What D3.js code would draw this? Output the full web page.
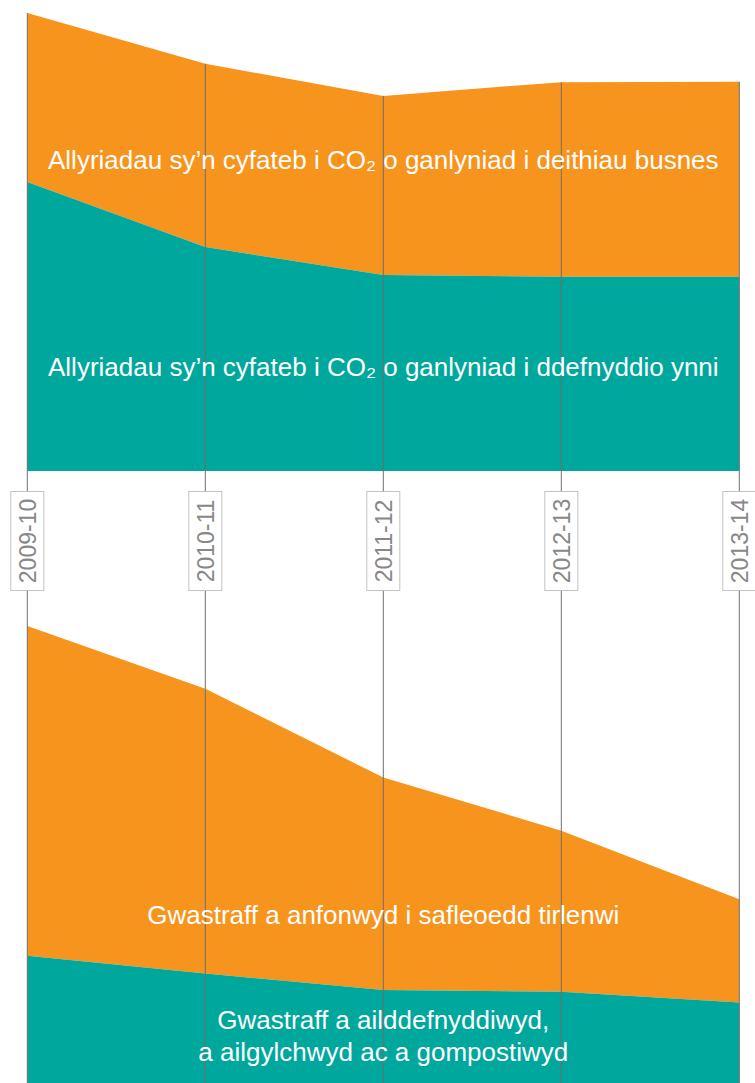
<!DOCTYPE html>
<html><head><meta charset="utf-8">
<script src="https://cdn.jsdelivr.net/npm/d3@7"></script>
<style>html,body{margin:0;padding:0;background:#fff;}svg{display:block;}</style>
</head><body><div id="chart"></div>
<script>
const years = ["2009-10","2010-11","2011-12","2012-13","2013-14"];
// Top chart (CO2 equivalent emissions, index units)
const energy = [631, 489, 428, 424, 424];
const travel = [369, 400, 391, 425, 426];
// Bottom chart (waste, index units)
const reused = [278, 239, 203, 199, 176];
const landfill = [720, 622, 464, 352, 225];

const labelTravel = "Allyriadau sy\u2019n cyfateb i CO\u2082 o ganlyniad i deithiau busnes";
const labelEnergy = "Allyriadau sy\u2019n cyfateb i CO\u2082 o ganlyniad i ddefnyddio ynni";
const labelLandfill = "Gwastraff a anfonwyd i safleoedd tirlenwi";
const labelReused = ["Gwastraff a ailddefnyddiwyd,", "a ailgylchwyd ac a gompostiwyd"];

const W = 755, H = 1083;
const ORANGE = "#F7941E", TEAL = "#00A79D";
const FONT = "'Liberation Sans', Arial, Helvetica, sans-serif";
const svg = d3.select("#chart").append("svg").attr("width", W).attr("height", H);
const x = d3.scalePoint().domain(years).range([27.3, 739.3]);
const yTop = d3.scaleLinear().domain([0, 1000]).range([471, 13]);
const yBot = d3.scaleLinear().domain([0, 1000]).range([1083, 625]);

function drawStack(lower, upper, y) {
  const rows = years.map((yr, i) => ({yr, a: lower[i], b: upper[i]}));
  const stack = d3.stack().keys(["a", "b"])(rows);
  const area = d3.area().x(d => x(d.data.yr)).y0(d => y(d[0])).y1(d => y(d[1]));
  svg.append("path").datum(stack[1]).attr("fill", ORANGE).attr("d", area);
  svg.append("path").datum(stack[0]).attr("fill", TEAL).attr("d", area);
  return stack;
}
const topStack = drawStack(energy, travel, yTop);
drawStack(reused, landfill, yBot);

// vertical gridlines
svg.append("g").selectAll("line").data(years).join("line")
  .attr("x1", d => x(d)).attr("x2", d => x(d))
  .attr("y1", (d, i) => yTop(topStack[1][i][1])).attr("y2", H)
  .attr("stroke", "#6e6e6e").attr("stroke-width", 1);

// year labels in boxes
const lab = svg.append("g").selectAll("g").data(years).join("g")
  .attr("transform", d => `translate(${x(d)},541)`);
lab.append("rect").attr("x", -16.5).attr("y", -49.5).attr("width", 33).attr("height", 99)
  .attr("fill", "#fff").attr("stroke", "#c4c4c4").attr("stroke-width", 1);
lab.append("text").attr("transform", "rotate(-90)").attr("text-anchor", "middle")
  .attr("dy", "0.36em").attr("font-family", FONT)
  .attr("font-size", 23).attr("fill", "#888").text(d => d);

const cx = (x.range()[0] + x.range()[1]) / 2;
function label(t, yy) {
  svg.append("text").attr("x", cx).attr("y", yy).attr("text-anchor", "middle")
    .attr("font-family", FONT).attr("font-size", 26)
    .attr("fill", "#fff").text(t);
}
label(labelTravel, 169);
label(labelEnergy, 376);
label(labelLandfill, 924);
label(labelReused[0], 1029);
label(labelReused[1], 1061);
</script></body></html>
